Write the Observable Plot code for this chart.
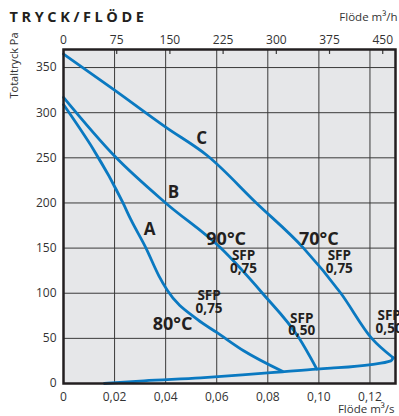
<!DOCTYPE html>
<html><head><meta charset="utf-8">
<script src="https://cdn.jsdelivr.net/npm/d3@7"></script>
<script src="https://cdn.jsdelivr.net/npm/@observablehq/plot@0.6"></script>
<style>body{margin:0;background:#fff}svg{display:block}</style>
</head><body><div id="chart"></div>
<script>
// Axis ticks
const flowTicksS = [0, 0.02, 0.04, 0.06, 0.08, 0.10, 0.12];   // m³/s (bottom)
const flowTicksH = [0, 75, 150, 225, 300, 375, 450];         // m³/h (top)
const paTicks = [0, 50, 100, 150, 200, 250, 300, 350];

// Curves: [flow m³/s, total pressure Pa]
const curveA = [[0,309],[0.0233,200],[0.0263,182],[0.0323,150],[0.0374,119],[0.0407,103],[0.0524,71],[0.0603,56],[0.0707,36],[0.0857,13.5]];
const curveB = [[0,317],[0.02,252],[0.04,200],[0.0616,150],[0.0779,100],[0.0923,50],[0.0992,16]];
const curveC = [[0,365],[0.02,325],[0.04,284],[0.0565,252],[0.0755,200],[0.094,150],[0.1086,100],[0.1207,50],[0.1291,28.5]];
const systemCurve = [[0.016,0],[0.0315,3],[0.0537,6.2],[0.07,9.5],[0.0857,13],[0.0992,16],[0.1047,17],[0.1204,21],[0.1282,25],[0.1291,28.5]];

// Annotations (text, flow, Pa)
const curveNames = [["A",0.0337,171],["B",0.0431,211],["C",0.0541,271]];
const tempNames = [["90°C",0.0637,160],["70°C",0.1,160],["80°C",0.0427,66]];
const sfpNames = [["SFP\n0,75",0.0705,134],["SFP\n0,75",0.108,134],["SFP\n0,75",0.057,90],["SFP\n0,50",0.0933,65],["SFP\n0,50",0.1275,68]];

const blue = "#0a79c1";
const ink = "#231f20";
const fmtS = d => d === 0 ? "0" : d.toFixed(2).replace(".", ",");

const lines = [curveA, curveB, curveC, systemCurve].map(c =>
  Plot.line(c, {x: d => d[0], y: d => d[1], stroke: blue, strokeWidth: 2.8, curve: "monotone-x"}));

const txt = (arr, opts) => Plot.text(arr, {x: d => d[1], y: d => d[2], text: d => d[0], fill: ink, fontWeight: "bold", ...opts});

const chart = Plot.plot({
  width: 399, height: 416,
  marginLeft: 63, marginRight: 4, marginTop: 49, marginBottom: 33,
  style: {fontFamily: "'Open Sans', sans-serif", fontSize: "12px", color: "#333", background: "#fff"},
  x: {domain: [0, 0.13]},
  y: {domain: [0, 370]},
  marks: [
    Plot.frame({fill: "#e6e7e9"}),
    Plot.ruleX(flowTicksS, {stroke: "#3a3a3a", strokeWidth: 1}),
    Plot.ruleY(paTicks, {stroke: "#3a3a3a", strokeWidth: 1}),
    Plot.ruleX(flowTicksH.map(v => v / 3600), {y1: 370, y2: 364.5, stroke: "#3a3a3a", strokeWidth: 1.2}),
    Plot.axisX(flowTicksS, {anchor: "bottom", tickSize: 0, tickPadding: 9, tickFormat: fmtS, label: null, fill: "#333"}),
    Plot.axisX(flowTicksH.map(v => v / 3600), {anchor: "top", tickSize: 0, tickPadding: 6, tickFormat: d => String(Math.round(d * 3600)), label: null, fill: "#333"}),
    Plot.axisY(paTicks, {anchor: "left", tickSize: 0, tickPadding: 7, label: null, fill: "#333"}),
    ...lines,
    txt(curveNames, {fontSize: 17}),
    txt(tempNames, {fontSize: 18}),
    txt(sfpNames, {fontSize: 13.5, lineHeight: 0.95}),
    Plot.frame({stroke: ink, strokeWidth: 2.5}),
    Plot.text(["TRYCK/FLÖDE"], {frameAnchor: "top-left", dx: -54, dy: -38, textAnchor: "start", fontSize: 14.5, fontWeight: "bold", fill: ink}),
    Plot.text(["Flöde m³/h"], {frameAnchor: "top-right", dx: 2, dy: -37, textAnchor: "end", fontSize: 11.5, fill: "#333"}),
    Plot.text(["Flöde m³/s"], {frameAnchor: "bottom-right", dx: -1, dy: 29, textAnchor: "end", fontSize: 11.5, fill: "#333"}),
    Plot.text(["Totaltryck Pa"], {frameAnchor: "top-left", dx: -49, dy: 16, rotate: -90, textAnchor: "middle", lineAnchor: "middle", fontSize: 11, fill: "#333"})
  ]
});
d3.select(chart).selectAll("text").filter(function() { return this.textContent === "TRYCK/FLÖDE"; })
  .attr("letter-spacing", "3.6px");
document.getElementById("chart").append(chart);
</script>
</body></html>
